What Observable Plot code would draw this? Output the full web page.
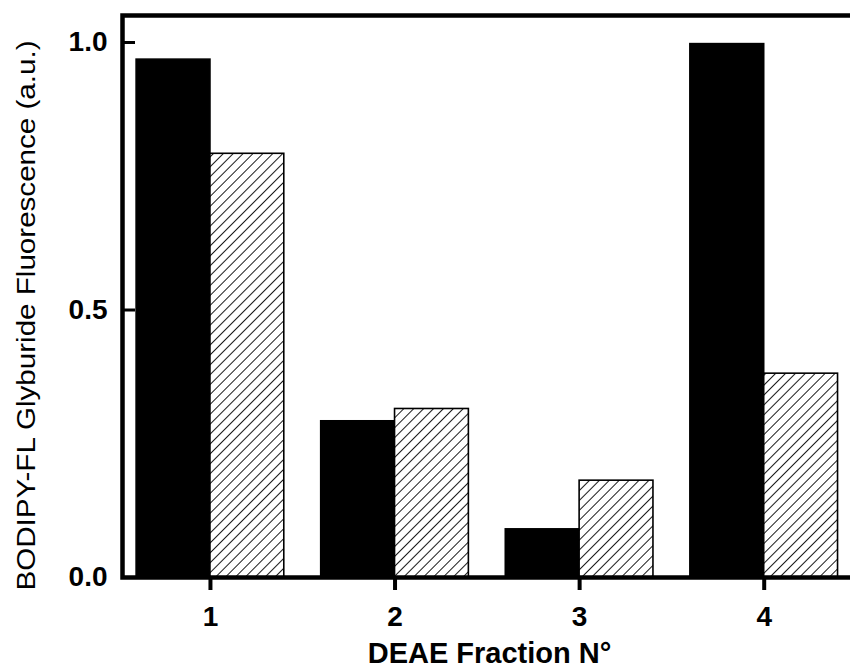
<!DOCTYPE html>
<html>
<head>
<meta charset="utf-8">
<script src="https://cdn.jsdelivr.net/npm/d3@7"></script>
<script src="https://cdn.jsdelivr.net/npm/@observablehq/plot@0.6"></script>
<style>
  html, body { margin: 0; padding: 0; background: #fff; overflow: hidden; }
  #chart svg { display: block; max-width: none !important; width: 860px; height: 672px !important; }
</style>
</head>
<body>
<div id="chart"></div>
<script>
// DEAE fractions and the fluorescence measured in each
const fractions = [1, 2, 3, 4];
const solidValues = [0.968, 0.292, 0.090, 0.997];
const hatchedValues = [0.792, 0.315, 0.181, 0.381];
const yTicks = [0, 0.5, 1.0];
const xTicks = [1, 2, 3, 4];
const xTitle = "DEAE Fraction N°";
const yTitle = "BODIPY-FL Glyburide Fluorescence (a.u.)";

// each fraction: solid bar on the left half, hatched bar on the right half
const half = 0.4;
const rows = fractions.flatMap((f, i) => [
  {fraction: f, series: "solid", value: solidValues[i], x1: f - half, x2: f},
  {fraction: f, series: "hatched", value: hatchedValues[i], x1: f, x2: f + half}
]);

const font = "'Liberation Sans', Arial, Helvetica, sans-serif";

const chart = Plot.plot({
  width: 860,
  height: 672,
  marginLeft: 122,
  marginRight: 4,
  marginTop: 15,
  marginBottom: 95,
  style: {fontFamily: font, background: "#fff", color: "#000", overflow: "visible"},
  x: {domain: [0.5235, 4.5]},
  y: {domain: [0, 1.0505]},
  marks: [
    Plot.rectY(rows, {
      x1: "x1",
      x2: "x2",
      y: "value",
      fill: d => d.series === "solid" ? "#000" : "url(#hatch)",
      stroke: "#000",
      strokeWidth: 1.6
    }),
    // inward tick marks on the value axis
    Plot.axisY(yTicks, {tickSize: -13, strokeWidth: 3, text: null, label: null}),
    Plot.axisY(yTicks, {
      tickSize: 0,
      tickPadding: 15,
      tickFormat: d => d.toFixed(1),
      fontSize: 28,
      fontWeight: "bold",
      label: null
    }),
    Plot.axisX(xTicks, {
      tickSize: 13,
      strokeWidth: 4,
      tickPadding: 16,
      tickFormat: d => String(d),
      fontSize: 28,
      fontWeight: "bold",
      label: null
    }),
    Plot.text([xTitle], {
      frameAnchor: "bottom",
      dy: 76,
      fontSize: 29,
      fontWeight: "bold",
      lineAnchor: "middle"
    }),
    Plot.text([yTitle], {
      frameAnchor: "left",
      textAnchor: "middle",
      rotate: -90,
      dx: -96,
      dy: 19,
      fontSize: 26,
      lineAnchor: "middle",
      className: "y-title"
    }),
    Plot.frame({stroke: "#000", strokeWidth: 4.5})
  ]
});

// stretch the vertical title along the full height of the axis
d3.select(chart).selectAll(".y-title text")
  .attr("textLength", 550)
  .attr("lengthAdjust", "spacingAndGlyphs");

// diagonal hatching used by the second series
const defs = d3.select(chart).insert("defs", ":first-child");
const pattern = defs.append("pattern")
  .attr("id", "hatch")
  .attr("patternUnits", "userSpaceOnUse")
  .attr("width", 7)
  .attr("height", 7)
  .attr("patternTransform", "rotate(45)");
pattern.append("rect").attr("width", 7).attr("height", 7).attr("fill", "#fff");
pattern.append("line")
  .attr("x1", 0).attr("y1", 0).attr("x2", 0).attr("y2", 7)
  .attr("stroke", "#000").attr("stroke-width", 1.8);

document.getElementById("chart").appendChild(chart);
</script>
</body>
</html>
